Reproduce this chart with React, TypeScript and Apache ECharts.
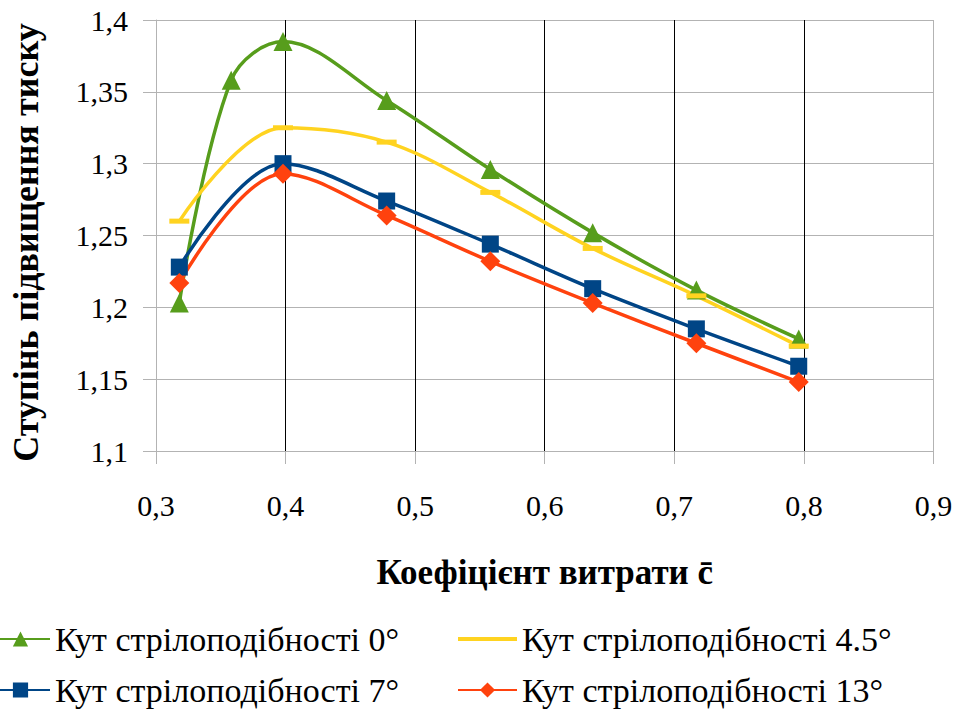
import React, { useEffect, useRef } from "react";
import * as echarts from "echarts";

const seriesNames = [
  "Кут стрілоподібності 0°",
  "Кут стрілоподібності 4.5°",
  "Кут стрілоподібності 7°",
  "Кут стрілоподібності 13°",
];

const green0: [number, number][] = [
  [0.318, 1.203],
  [0.358, 1.358],
  [0.398, 1.385],
  [0.478, 1.344],
  [0.558, 1.296],
  [0.637, 1.252],
  [0.717, 1.212],
  [0.796, 1.178],
];
const yellow45: [number, number][] = [
  [0.318, 1.26],
  [0.398, 1.325],
  [0.478, 1.315],
  [0.558, 1.28],
  [0.637, 1.241],
  [0.717, 1.208],
  [0.796, 1.173],
];
const blue7: [number, number][] = [
  [0.318, 1.228],
  [0.398, 1.3],
  [0.478, 1.274],
  [0.558, 1.244],
  [0.637, 1.213],
  [0.717, 1.185],
  [0.796, 1.159],
];
const red13: [number, number][] = [
  [0.318, 1.217],
  [0.398, 1.293],
  [0.478, 1.264],
  [0.558, 1.232],
  [0.637, 1.203],
  [0.717, 1.175],
  [0.796, 1.148],
];

const xTitle = "Коефіцієнт витрати c\u0304";
const yTitle = "Ступінь підвищення тиску";

const colors = ["#579d1c", "#ffd320", "#004586", "#ff420e"];
const FONT = "'Liberation Serif', 'Times New Roman', Times, serif";

export default function App() {
  const ref = useRef<HTMLDivElement>(null);
  useEffect(() => {
    if (!ref.current) return;
    const chart = echarts.init(ref.current, undefined, { renderer: "svg" });
    const fmt = (v: number) => String(+v.toFixed(2)).replace(".", ",");
    const legendText = { fontFamily: FONT, fontSize: 34, color: "#000", lineHeight: 34 };
    const SMOOTH = 0.35;
    chart.setOption({
      animation: false,
      backgroundColor: "#fff",
      textStyle: { fontFamily: FONT },
      grid: { left: 156, right: 28.5, top: 20, bottom: 260, containLabel: false },
      xAxis: {
        type: "value",
        min: 0.3,
        max: 0.9,
        interval: 0.1,
        name: xTitle,
        nameLocation: "middle",
        nameGap: 104,
        nameTextStyle: { fontFamily: FONT, fontSize: 35, fontWeight: "bold", color: "#000" },
        axisLine: { lineStyle: { color: "#b3b3b3", width: 1 } },
        axisTick: { show: true, length: 13, lineStyle: { color: "#b3b3b3" } },
        axisLabel: { margin: 39, fontFamily: FONT, fontSize: 30, color: "#000", formatter: fmt },
        splitLine: {
          show: true,
          lineStyle: {
            color: ["#b3b3b3", "#000000", "#000000", "#000000", "#000000", "#000000", "#b3b3b3"],
            width: 1,
          },
        },
      },
      yAxis: {
        type: "value",
        min: 1.1,
        max: 1.4,
        interval: 0.05,
        name: yTitle,
        nameLocation: "middle",
        nameGap: 112,
        nameRotate: 90,
        nameTextStyle: {
          fontFamily: FONT,
          fontSize: 36,
          fontWeight: "bold",
          color: "#000",
          padding: [0, 14, 0, 0],
        },
        axisLine: { show: true, lineStyle: { color: "#b3b3b3", width: 1 } },
        axisTick: { show: true, length: 13, lineStyle: { color: "#b3b3b3" } },
        axisLabel: { margin: 28, fontFamily: FONT, fontSize: 30, color: "#000", formatter: fmt },
        splitLine: { show: true, lineStyle: { color: "#b3b3b3", width: 1 } },
      },
      legend: [
        {
          orient: "vertical",
          left: -10,
          top: 622,
          padding: 0,
          itemWidth: 59,
          itemHeight: 19,
          itemGap: 17,
          textStyle: legendText,
          data: [seriesNames[0], seriesNames[2]],
        },
        {
          orient: "vertical",
          left: 457,
          top: 622,
          padding: 0,
          itemWidth: 59,
          itemHeight: 19,
          itemGap: 17,
          textStyle: legendText,
          data: [
            { name: seriesNames[1], icon: "path://M0,0H60V4H0Z" },
            seriesNames[3],
          ],
        },
      ],
      series: [
        {
          name: seriesNames[0],
          type: "line",
          data: green0,
          smooth: SMOOTH,
          symbol: "triangle",
          symbolSize: 19,
          color: colors[0],
          lineStyle: { width: 3.5, color: colors[0] },
          itemStyle: { color: colors[0] },
        },
        {
          name: seriesNames[1],
          type: "line",
          data: yellow45,
          smooth: SMOOTH,
          symbol: "rect",
          symbolSize: [20, 5],
          color: colors[1],
          lineStyle: { width: 3.5, color: colors[1] },
          itemStyle: { color: colors[1] },
        },
        {
          name: seriesNames[2],
          type: "line",
          data: blue7,
          smooth: SMOOTH,
          symbol: "rect",
          symbolSize: 17,
          color: colors[2],
          lineStyle: { width: 3.5, color: colors[2] },
          itemStyle: { color: colors[2] },
        },
        {
          name: seriesNames[3],
          type: "line",
          data: red13,
          smooth: SMOOTH,
          symbol: "diamond",
          symbolSize: 20,
          color: colors[3],
          lineStyle: { width: 3.5, color: colors[3] },
          itemStyle: { color: colors[3] },
        },
      ],
    });
    return () => chart.dispose();
  }, []);
  return (
    <div
      ref={ref}
      style={{ position: "fixed", left: 0, top: 0, width: 962, height: 711, background: "#fff" }}
    />
  );
}
